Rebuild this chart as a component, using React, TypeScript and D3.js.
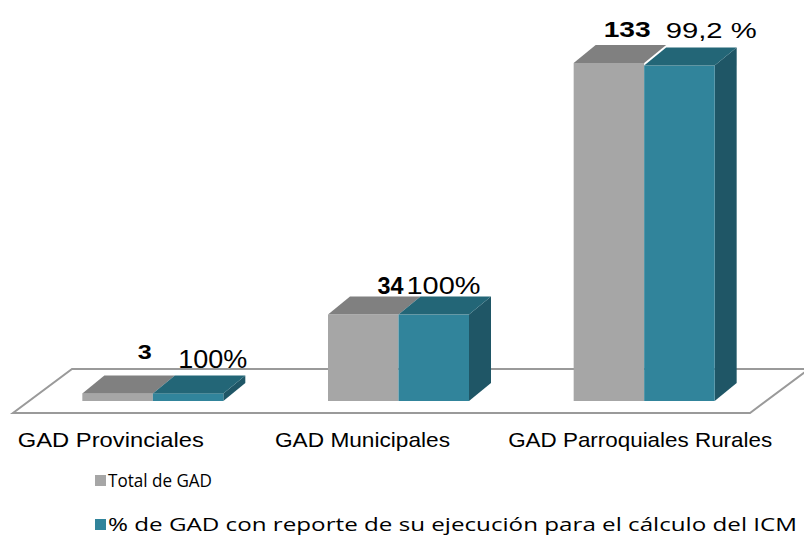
import React from "react";
import * as d3 from "d3";

const categories = ["GAD Provinciales", "GAD Municipales", "GAD Parroquiales Rurales"];
const seriesNames = ["Total de GAD", "% de GAD con reporte de su ejecución para el cálculo del ICM"];
const totalValues = [3, 34, 133];
const reportedValues = [3, 34, 132];
const totalLabels = ["3", "34", "133"];
const percentLabels = ["100%", "100%", "99,2 %"];

// layout (not data)
const W = 804;
const H = 538;
const DX = 22;
const DY = -18;
const colors = {
  greyFront: "#a6a6a6",
  greyTop: "#808080",
  tealFront: "#31849b",
  tealTop: "#236677",
  tealSide: "#1f5666",
};
const ARIAL = "Liberation Sans, Arial, Helvetica, sans-serif";
const LEGEND_FONT = "Open Sans, Noto Sans, sans-serif";
const catLabelShift = [-42, -36, -4];
const catLabelWidth = [186, 175, 264];
const totLabelLayout = [
  { dx: -8, dy: -16, w: 14, fs: 21 },
  { dx: -8, dy: -3, w: 26, fs: 23 },
  { dx: -17, dy: -8, w: 47, fs: 22 },
];
const pctLabelLayout = [
  { dx: 60, dy: -7, w: 69, fs: 25.5 },
  { dx: 45, dy: -3, w: 74, fs: 23 },
  { dx: 67, dy: -10, w: 91, fs: 22 },
];

export default function App() {
  const x = d3.scaleBand<string>().domain(categories).range([30, 767]).padding(0);
  const xi = d3.scaleBand<string>().domain(seriesNames).range([-70.5, 70.5]).padding(0);
  const y = d3.scaleLinear().domain([0, 133]).range([401, 63]);

  const floor = {
    backY: 369,
    frontY: 413,
    frontL: 13,
    frontR: 750,
    backL: 72,
    backR: 809,
  };
  const floorPath = `M${floor.frontL},${floor.frontY} L${floor.frontR},${floor.frontY} L${floor.backR},${floor.backY} L${floor.backL},${floor.backY} Z`;

  const bar = (x0: number, w: number, v: number, front: string, top: string, side: string | null, key: string) => {
    const y0 = y(0);
    const y1 = y(v);
    return (
      <g key={key}>
        {side && (
          <path
            d={`M${x0 + w},${y0} L${x0 + w + DX},${y0 + DY} L${x0 + w + DX},${y1 + DY} L${x0 + w},${y1} Z`}
            fill={side}
          />
        )}
        <rect x={x0} y={y1} width={w} height={y0 - y1} fill={front} />
        <path
          d={`M${x0},${y1} L${x0 + DX},${y1 + DY} L${x0 + w + DX},${y1 + DY} L${x0 + w},${y1} Z`}
          fill={top}
        />
      </g>
    );
  };

  return (
    <svg width={W} height={H} style={{ position: "absolute", left: 0, top: 0, background: "#fff" }}>
      <path d={floorPath} fill="#ffffff" stroke="#9a9a9a" strokeWidth={2} />
      {categories.map((c, i) => {
        const cx = (x(c) as number) + x.bandwidth() / 2;
        const g0 = cx + (xi(seriesNames[0]) as number);
        const g1 = cx + (xi(seriesNames[1]) as number);
        const bw = xi.bandwidth();
        return (
          <g key={c}>
            {bar(g0, bw, totalValues[i], colors.greyFront, colors.greyTop, null, "g")}
            {bar(g1, bw, reportedValues[i], colors.tealFront, colors.tealTop, colors.tealSide, "t")}
          </g>
        );
      })}
      {categories.map((c, i) => {
        const cx = (x(c) as number) + x.bandwidth() / 2;
        const tl = totLabelLayout[i];
        const pl = pctLabelLayout[i];
        const gTop = y(totalValues[i]) + DY;
        const tTop = y(reportedValues[i]) + DY;
        return (
          <g key={"lab" + c} style={{ fontFamily: ARIAL }} fill="#000">
            <text
              x={cx + tl.dx}
              y={gTop + tl.dy}
              textAnchor="middle"
              fontWeight="bold"
              fontSize={tl.fs}
              textLength={tl.w}
              lengthAdjust="spacingAndGlyphs"
            >
              {totalLabels[i]}
            </text>
            <text
              x={cx + pl.dx}
              y={tTop + pl.dy}
              textAnchor="middle"
              fontSize={pl.fs}
              textLength={pl.w}
              lengthAdjust="spacingAndGlyphs"
            >
              {percentLabels[i]}
            </text>
            <text
              x={cx + catLabelShift[i]}
              y={447}
              textAnchor="middle"
              fontSize={21}
              textLength={catLabelWidth[i]}
              lengthAdjust="spacingAndGlyphs"
            >
              {c}
            </text>
          </g>
        );
      })}
      <g style={{ fontFamily: LEGEND_FONT }} fill="#000">
        <rect x={95} y={475} width={11} height={11} fill={colors.greyFront} />
        <text x={108} y={487} fontSize={19} textLength={104} lengthAdjust="spacingAndGlyphs">
          {seriesNames[0]}
        </text>
        <rect x={95} y={519} width={11} height={11} fill={colors.tealFront} />
        <text x={108} y={531} fontSize={19} textLength={689} lengthAdjust="spacingAndGlyphs">
          {seriesNames[1]}
        </text>
      </g>
    </svg>
  );
}
